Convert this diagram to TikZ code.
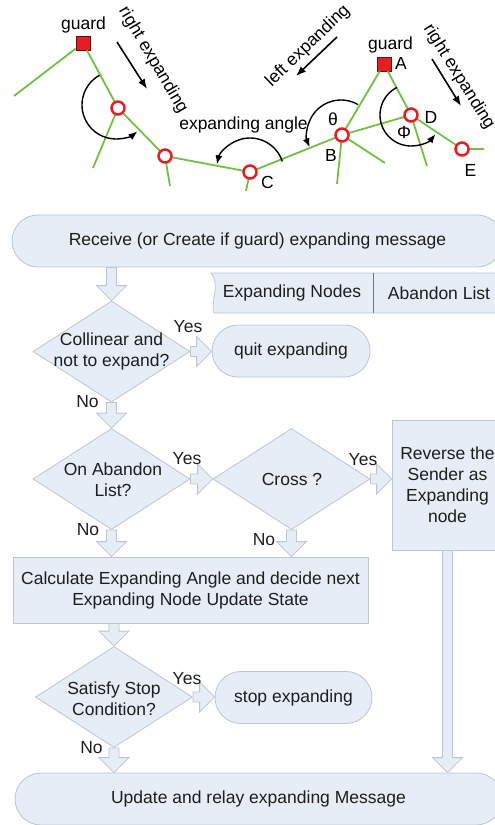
\documentclass[tikz,border=0pt]{standalone}
\usepackage{fontspec}
\setmainfont{Liberation Sans}
\usetikzlibrary{shapes.geometric, arrows.meta, calc}

\definecolor{boxfill}{RGB}{230,237,246}
\definecolor{boxline}{RGB}{188,197,209}
\definecolor{txt}{RGB}{30,30,30}
\definecolor{linkgreen}{RGB}{114,191,68}
\definecolor{vertred}{RGB}{230,30,36}

% hollow block arrows between flowchart shapes
\newcommand{\vblk}[2]{\path[blk] let \p1=#1, \p2=#2 in
  (\x1-5pt,\y1) -- (\x1-5pt,\y2+15pt) -- (\x1-15pt,\y2+15pt) -- (\x1,\y2)
  -- (\x1+15pt,\y2+15pt) -- (\x1+5pt,\y2+15pt) -- (\x1+5pt,\y1) -- cycle;}
\newcommand{\hblk}[2]{\path[blk] let \p1=#1, \p2=#2 in
  (\x1,\y1-5pt) -- (\x2-15pt,\y1-5pt) -- (\x2-15pt,\y1-15pt) -- (\x2,\y1)
  -- (\x2-15pt,\y1+15pt) -- (\x2-15pt,\y1+5pt) -- (\x1,\y1+5pt) -- cycle;}

\begin{document}
\begin{tikzpicture}[x=1pt, y=1pt, font=\fontsize{17.5}{21}\selectfont,
  link/.style={draw=linkgreen, line width=1.8pt},
  vert/.style={circle, draw=vertred, fill=white, line width=2.5pt, minimum size=13pt, inner sep=0pt},
  guardsq/.style={rectangle, draw=black!55!vertred, fill=vertred, line width=0.6pt, minimum size=14pt, inner sep=0pt},
  turn/.style={draw=black, line width=1.4pt, -{Latex[length=9pt,width=7pt]}},
  dirarrow/.style={draw=black, line width=1.6pt, -{Latex[length=10pt,width=7.5pt]}},
  lab/.style={inner sep=0pt, text=black},
  flow/.style={draw=boxline, fill=boxfill, line width=0.8pt, text=txt},
  term/.style={flow, rectangle, rounded corners=26pt, minimum height=52pt, inner sep=0pt},
  proc/.style={flow, rectangle, inner sep=0pt, align=center},
  decision/.style={flow, diamond, minimum width=157pt, minimum height=101pt, inner sep=0pt},
  tag/.style={text=txt, inner sep=0pt, align=center},
  blk/.style={draw=boxline, fill=boxfill, line width=0.8pt, line join=miter}
]
\useasboundingbox (0,0) rectangle (495,-825);

% ---------- network of nodes ----------
\node[guardsq] (g1) at (83,-43) {};
\node[guardsq] (ga) at (384,-64) {};
\coordinate (t0) at (14,-96);
\coordinate (t1) at (93,-168);
\coordinate (t2) at (170,-186);
\coordinate (tc) at (246,-191);
\coordinate (tb1) at (337,-184);
\coordinate (tb2) at (385,-163);
\coordinate (td) at (427,-166);
\coordinate (te) at (484,-149);
\coordinate (v1p) at (118,-108);
\coordinate (v2p) at (165,-156);
\coordinate (vcp) at (250,-172);
\coordinate (vbp) at (342,-135);
\coordinate (vdp) at (411,-115);
\coordinate (vep) at (462,-149);

\draw[link] (t0) -- (g1) (g1) -- (v1p) (v1p) -- (t1) (v1p) -- (v2p)
  (v2p) -- (t2) (v2p) -- (vcp) (vcp) -- (tc) (vcp) -- (vbp)
  (vbp) -- (ga) (vbp) -- (vdp) (vbp) -- (tb1) (vbp) -- (tb2)
  (ga) -- (vdp) (vdp) -- (td) (vdp) -- (vep) (vep) -- (te);

\node[vert] (v1) at (v1p) {};
\node[vert] (v2) at (v2p) {};
\node[vert] (vc) at (vcp) {};
\node[vert] (vb) at (vbp) {};
\node[vert] (vd) at (vdp) {};
\node[vert] (ve) at (vep) {};

% expanding angles
\draw[turn] ($(v1)+(-2,3)+(119:34)$) arc[start angle=119, end angle=309, radius=34];
\draw[turn] ($(vc)+(18:34)$) arc[start angle=18, end angle=167, radius=34];
\draw[turn] ($(vb)+(-1,1)+(60:34)$) arc[start angle=60, end angle=203, radius=34];
\draw[turn] ($(vd)+(117:31)$) arc[start angle=117, end angle=322, radius=31];

% expanding directions
\coordinate (r1s) at (117,-42);  \coordinate (r1e) at (147,-89);
\coordinate (l1s) at (337,-37);  \coordinate (l1e) at (296,-76);
\coordinate (r2s) at (432,-59);  \coordinate (r2e) at (461,-106);
\draw[dirarrow] (r1s) -- (r1e);
\draw[dirarrow] (l1s) -- (l1e);
\draw[dirarrow] (r2s) -- (r2e);
\node[lab, rotate=-59.5] (rtx1) at (153,-60) {right expanding};
\node[lab, rotate=44] (ltx) at (308,-46) {left expanding};
\node[lab, rotate=-58] (rtx2) at (459,-77) {right expanding};

% labels
\node[lab] (lg1) at (83.5,-25) {guard};
\node[lab] (lg2) at (390.5,-45) {guard};
\node[lab] (la) at (401,-63) {A};
\node[lab] (lb) at (331,-155.5) {B};
\node[lab] (lc) at (267.5,-182) {C};
\node[lab] (ld) at (431,-117.5) {D};
\node[lab] (le) at (470.5,-170.5) {E};
\node[lab] (lth) at (333,-119) {θ};
\node[lab] (lph) at (404,-132.5) {Φ};
\node[lab] (lang) at (243.5,-125) {expanding angle};

% ---------- flowchart ----------
\node[term, minimum width=491pt] (recv) at (257.5,-241) {Receive (or Create if guard) expanding message};

% message store
\coordinate (ds1) at (211,-273);
\coordinate (ds2) at (500,-273);
\coordinate (ds3) at (500,-313);
\coordinate (ds4) at (214,-313);
\coordinate (dv1) at (373,-273);
\coordinate (dv2) at (373,-313);
\path[flow] (ds2) -- (ds1) .. controls (221,-284) and (210,-302) .. (ds4) -- (ds3);
\draw[boxline!60!black, line width=0.8pt] (dv1) -- (dv2);
\node[tag] (dsn) at (292,-293) {Expanding Nodes};
\node[tag] (dsa) at (439,-293) {Abandon List};

\node[decision] (d1) at (111.5,-351.5) {};
\node[tag] (d1t) at (d1) {Collinear and\\not to expand?};
\node[term, minimum width=158pt] (quit) at (291,-351) {quit expanding};

\node[decision] (d2) at (111.5,-479) {};
\node[tag] (d2t) at (113,-480) {On Abandon\\List?};
\node[decision] (d3) at (291.5,-479) {};
\node[tag] (d3t) at (292,-479) {Cross ?};
\node[proc, minimum width=111pt, minimum height=130pt] (rev) at (447.5,-485) {Reverse the\\Sender as\\Expanding\\node};

\node[proc, minimum width=355pt, minimum height=66pt] (calc) at (190.5,-590) {Calculate Expanding Angle and decide next\\Expanding Node Update State};

\node[decision] (d4) at (114,-697) {};
\node[tag] (d4t) at (114,-699) {Satisfy Stop\\Condition?};
\node[term, minimum width=157pt] (stop) at (293.5,-697.5) {stop expanding};

\node[term, minimum width=487pt] (upd) at (258.5,-799) {Update and relay expanding Message};

% block arrows
\vblk{(d1.north |- recv.south)}{(d1.north)}
\hblk{(d1.east)}{(d1.east -| quit.west)}
\vblk{(d1.south)}{(d2.north)}
\hblk{(d2.east)}{(d3.west)}
\hblk{(d3.east)}{(d3.east -| rev.west)}
\vblk{(d2.south)}{(d2.south |- calc.north)}
\vblk{(d3.south)}{(d3.south |- calc.north)}
\vblk{(d4.north |- calc.south)}{(d4.north)}
\hblk{(d4.east)}{(d4.east -| stop.west)}
\vblk{(d4.south)}{(d4.south |- upd.north)}
\vblk{(rev.south)}{(rev.south |- upd.north)}

% branch labels
\node[tag] (y1) at (188,-327) {Yes};
\node[tag] (n1) at (87.5,-401.5) {No};
\node[tag] (y2) at (187,-459) {Yes};
\node[tag] (y3) at (363,-460) {Yes};
\node[tag] (n2) at (88,-530) {No};
\node[tag] (n3) at (264,-540) {No};
\node[tag] (y4) at (187,-679) {Yes};
\node[tag] (n4) at (91.5,-747.5) {No};
\end{tikzpicture}
\end{document}
